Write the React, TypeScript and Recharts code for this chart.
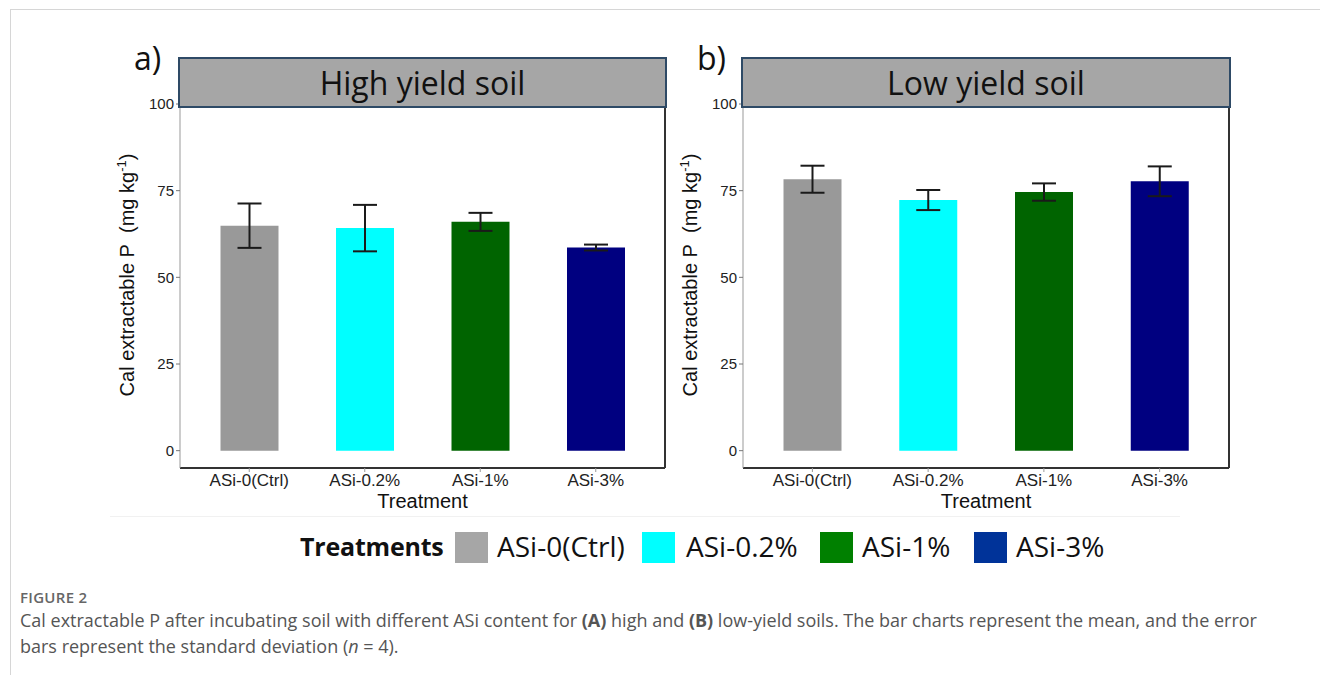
import React from "react";
import { BarChart, Bar, XAxis, YAxis, ErrorBar, Cell } from "recharts";

const categories = ["ASi-0(Ctrl)", "ASi-0.2%", "ASi-1%", "ASi-3%"];
const highMeans = [64.9, 64.2, 66.0, 58.6];
const highSd = [6.4, 6.7, 2.6, 0.85];
const lowMeans = [78.3, 72.3, 74.6, 77.7];
const lowSd = [3.9, 2.9, 2.5, 4.3];
const barColors = ["#999999", "#00FFFF", "#006400", "#000080"];
const legendColors = ["#A6A6A6", "#00FFFF", "#008000", "#003399"];
const yTicks = [0, 25, 50, 75, 100];

const AX_FONT = "'Liberation Sans', Arial, sans-serif";
const CAL_FONT = "'Open Sans', 'Noto Sans', sans-serif";

type PanelProps = {
  chartLeft: number;
  rightMargin: number;
  tag: string;
  title: string;
  means: number[];
  sds: number[];
};

function Panel({ chartLeft, rightMargin, tag, title, means, sds }: PanelProps) {
  const data = categories.map((c, i) => ({ name: c, value: means[i], sd: sds[i] }));
  const top = 80;
  const width = 580;
  const height = 440;
  const yAxisW = 80;
  const plotLeft = chartLeft + yAxisW;
  const plotRight = chartLeft + width - rightMargin;
  const plotTop = top + 24;
  const plotBottom = 468;
  const plotCenter = (plotLeft + plotRight) / 2;
  return (
    <>
      <div style={{ position: "absolute", left: chartLeft, top, width, height }}>
        <BarChart
          width={width}
          height={height}
          data={data}
          margin={{ top: 24, right: rightMargin, bottom: 0, left: 0 }}
        >
          <XAxis
            dataKey="name"
            type="category"
            height={52}
            padding={{ left: 11.5, right: 11.5 }}
            axisLine={{ stroke: "#333", strokeWidth: 2 }}
            tickLine={{ stroke: "#999" }}
            tickSize={4}
            tick={{ fontSize: 17, fill: "#222", fontFamily: AX_FONT }}
            interval={0}
          />
          <YAxis
            type="number"
            domain={[-5, 100]}
            ticks={yTicks}
            width={yAxisW}
            allowDataOverflow
            axisLine={{ stroke: "#999", strokeWidth: 1 }}
            tickLine={{ stroke: "#777" }}
            tickSize={4}
            tick={{ fontSize: 15, fill: "#222", fontFamily: AX_FONT }}
          />
          <Bar dataKey="value" barSize={58} isAnimationActive={false}>
            {data.map((d, i) => (
              <Cell key={d.name} fill={barColors[i]} />
            ))}
            <ErrorBar dataKey="sd" width={12} stroke="#1a1a1a" strokeWidth={2} isAnimationActive={false} />
          </Bar>
        </BarChart>
      </div>
      {/* right border of panel */}
      <div
        style={{
          position: "absolute",
          left: plotRight - 1,
          top: plotTop,
          width: 0,
          height: plotBottom - plotTop,
          borderLeft: "2px solid #333",
        }}
      />
      {/* strip */}
      <div
        style={{
          position: "absolute",
          left: plotLeft - 2,
          top: 57,
          width: plotRight - plotLeft + 4,
          height: 51,
          boxSizing: "border-box",
          background: "#A6A6A6",
          border: "2px solid #2E4A66",
          fontFamily: CAL_FONT,
          fontSize: 32,
          color: "#111",
          textAlign: "center",
          lineHeight: "48px",
        }}
      >
        {title}
      </div>
      {/* tag */}
      <div
        style={{
          position: "absolute",
          left: plotLeft - 46,
          top: 38,
          fontFamily: CAL_FONT,
          fontSize: 32,
          color: "#111",
          lineHeight: "40px",
        }}
      >
        {tag}
      </div>
      {/* y axis title */}
      <div
        style={{
          position: "absolute",
          left: chartLeft + 27 - 160,
          top: 275 - 12,
          width: 320,
          height: 24,
          lineHeight: "24px",
          transform: "rotate(-90deg)",
          textAlign: "center",
          fontFamily: AX_FONT,
          fontSize: 20,
          color: "#111",
          whiteSpace: "nowrap",
        }}
      >
        Cal extractable P&nbsp;&nbsp;(mg kg
        <span style={{ fontSize: 13, position: "relative", top: -8 }}>-1</span>)
      </div>
      {/* x axis title */}
      <div
        style={{
          position: "absolute",
          left: plotCenter - 80,
          top: 489,
          width: 160,
          textAlign: "center",
          fontFamily: AX_FONT,
          fontSize: 20,
          color: "#111",
          lineHeight: "24px",
        }}
      >
        Treatment
      </div>
    </>
  );
}

const swatchLefts = [455, 642, 820, 974];
const textLefts = [497, 686, 862, 1016];

export default function App() {
  return (
    <div style={{ position: "absolute", left: 0, top: 0, width: 1320, height: 675, background: "#fff", overflow: "hidden" }}>
      {/* frame lines */}
      <div style={{ position: "absolute", left: 10, top: 9, width: 1310, height: 1, background: "#d6d6d6" }} />
      <div style={{ position: "absolute", left: 10, top: 9, width: 1, height: 666, background: "#d6d6d6" }} />
      <div style={{ position: "absolute", left: 110, top: 516, width: 1070, height: 1, background: "#f1f1f1" }} />

      <Panel chartLeft={100} rightMargin={15} tag="a)" title="High yield soil" means={highMeans} sds={highSd} />
      <Panel chartLeft={663} rightMargin={14} tag="b)" title="Low yield soil" means={lowMeans} sds={lowSd} />

      {/* legend */}
      <div
        style={{
          position: "absolute",
          left: 300,
          top: 528,
          lineHeight: "36px",
          fontFamily: CAL_FONT,
          fontSize: 25,
          fontWeight: 700,
          color: "#111",
          whiteSpace: "nowrap",
          letterSpacing: -0.2,
        }}
      >
        Treatments
      </div>
      {categories.map((c, i) => (
        <React.Fragment key={c}>
          <div
            style={{
              position: "absolute",
              left: swatchLefts[i],
              top: 532,
              width: 33,
              height: 31,
              background: legendColors[i],
            }}
          />
          <div
            style={{
              position: "absolute",
              left: textLefts[i],
              top: 527,
              lineHeight: "38px",
              fontFamily: CAL_FONT,
              fontSize: 28,
              color: "#111",
              whiteSpace: "nowrap",
            }}
          >
            {c}
          </div>
        </React.Fragment>
      ))}

      {/* caption */}
      <div
        style={{
          position: "absolute",
          left: 20,
          top: 589,
          fontFamily: CAL_FONT,
          fontSize: 15,
          fontWeight: 600,
          color: "#666",
          letterSpacing: 0.3,
          lineHeight: "17px",
        }}
      >
        FIGURE 2
      </div>
      <div
        style={{
          position: "absolute",
          left: 20,
          top: 607,
          fontFamily: CAL_FONT,
          fontSize: 18,
          lineHeight: "26px",
          color: "#555",
          whiteSpace: "nowrap",
        }}
      >
        Cal extractable P after incubating soil with different ASi content for <b>(A)</b> high and <b>(B)</b> low-yield soils. The bar charts represent the mean, and the error
        <br />
        bars represent the standard deviation (<i>n</i> = 4).
      </div>
    </div>
  );
}
